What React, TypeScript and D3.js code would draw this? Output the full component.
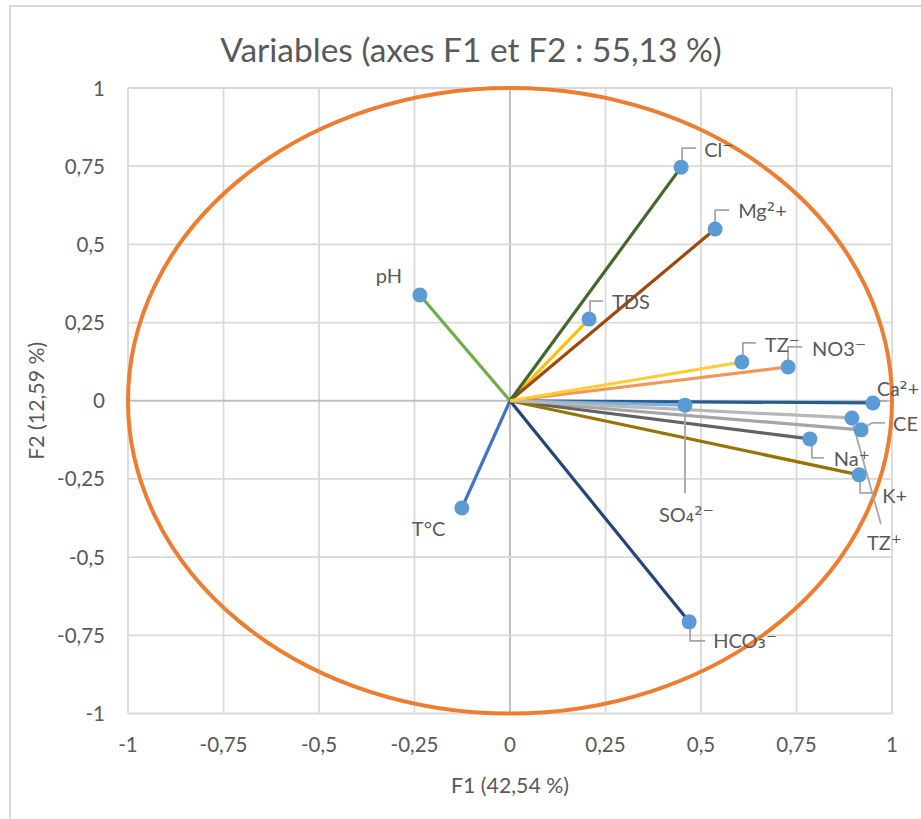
import React from "react";
import * as d3 from "d3";

// ---- Data ----
const variables = ["pH", "T°C", "CE", "TDS", "Ca²+", "Mg²+", "Na⁺", "K+", "Cl⁻", "SO₄²⁻", "HCO₃⁻", "NO3⁻", "TZ⁺", "TZ⁻"];
const f1 = [-0.236, -0.126, 0.919, 0.207, 0.95, 0.537, 0.785, 0.914, 0.448, 0.458, 0.469, 0.728, 0.895, 0.607];
const f2 = [0.338, -0.343, -0.093, 0.261, -0.007, 0.549, -0.122, -0.237, 0.747, -0.014, -0.707, 0.108, -0.055, 0.124];
const xTicks = [-1, -0.75, -0.5, -0.25, 0, 0.25, 0.5, 0.75, 1];
const yTicks = [-1, -0.75, -0.5, -0.25, 0, 0.25, 0.5, 0.75, 1];
const title = "Variables (axes F1 et F2 : 55,13 %)";
const xTitle = "F1 (42,54 %)";
const yTitle = "F2 (12,59 %)";

// ---- Styles ----
const lineColors: Record<string, string> = {
  "pH": "#70ad47",
  "T°C": "#4472c4",
  "CE": "#a5a5a5",
  "TDS": "#ffc000",
  "Ca²+": "#255e91",
  "Mg²+": "#9e480e",
  "Na⁺": "#636363",
  "K+": "#997300",
  "Cl⁻": "#43682b",
  "SO₄²⁻": "#7cafdd",
  "HCO₃⁻": "#264478",
  "NO3⁻": "#f1975a",
  "TZ⁺": "#b7b7b7",
  "TZ⁻": "#ffcd33",
};
const drawOrder = ["CE", "TDS", "T°C", "pH", "Ca²+", "Mg²+", "Na⁺", "K+", "HCO₃⁻", "Cl⁻", "SO₄²⁻", "NO3⁻", "TZ⁺", "TZ⁻"];

// label layout: text offset from point (start x, baseline) and leader polyline relative to point
const labelLayout: Record<string, { dx: number; dy: number; size?: number; leader?: [number, number][] }> = {
  "pH": { dx: -44, dy: -12 },
  "T°C": { dx: -50, dy: 28 },
  "CE": { dx: 32, dy: 1, leader: [[0, 0], [11, -7], [24, -7]] },
  "TDS": { dx: 23, dy: -10, leader: [[1, 0], [1, -18], [14, -18]] },
  "Ca²+": { dx: 4, dy: -7, size: 19.5, leader: [[7, -2], [14, -2]] },
  "Mg²+": { dx: 23, dy: -11, leader: [[0, 0], [0, -19], [14, -19]] },
  "Na⁺": { dx: 24, dy: 27, leader: [[2, 0], [2, 19], [14, 19]] },
  "K+": { dx: 23, dy: 28, leader: [[1, 0], [1, 18], [14, 18]] },
  "Cl⁻": { dx: 23, dy: -10, leader: [[1, 0], [1, -19], [15, -19]] },
  "SO₄²⁻": { dx: -26, dy: 117, leader: [[0, 0], [0, 88]] },
  "HCO₃⁻": { dx: 24, dy: 26, leader: [[1, 0], [1, 19], [16, 19]] },
  "NO3⁻": { dx: 24, dy: -11, leader: [[0, 0], [0, -20], [14, -20]] },
  "TZ⁺": { dx: 15, dy: 132, leader: [[0, 2], [29, 106]] },
  "TZ⁻": { dx: 23, dy: -10, leader: [[1, 0], [1, -19], [14, -19]] },
};

const FONT = "Lato, 'Noto Sans', 'DejaVu Sans', sans-serif";
const SUPFONT = "'DejaVu Sans', 'Noto Sans', sans-serif";
const TEXT = "#595959";
const SPECIAL = /[⁻⁺²₃₄]/;

const fmt = (v: number) => String(v).replace(".", ",");

function renderLabel(s: string, size: number) {
  const parts: React.ReactNode[] = [];
  let buf = "";
  let k = 0;
  for (const ch of Array.from(s)) {
    if (SPECIAL.test(ch)) {
      if (buf) parts.push(<tspan key={k++}>{buf}</tspan>);
      buf = "";
      parts.push(
        <tspan key={k++} fontFamily={SUPFONT} fontSize={size * 1.05}>
          {ch}
        </tspan>
      );
    } else buf += ch;
  }
  if (buf) parts.push(<tspan key={k++}>{buf}</tspan>);
  return parts;
}

export default function App() {
  const W = 921;
  const H = 819;
  const x = d3.scaleLinear().domain([-1, 1]).range([128, 892]);
  const y = d3.scaleLinear().domain([-1, 1]).range([713.5, 88]);
  const leaderLine = d3.line<[number, number]>().x((d) => d[0]).y((d) => d[1]);

  const pts = variables.map((v, i) => ({ name: v, px: x(f1[i]), py: y(f2[i]) }));
  const byName: Record<string, { name: string; px: number; py: number }> = {};
  pts.forEach((p) => (byName[p.name] = p));

  return (
    <svg
      width={W}
      height={H}
      style={{ position: "absolute", left: 0, top: 0, background: "#fff" }}
      fontFamily={FONT}
    >
      <rect x={0} y={0} width={W} height={H} fill="#fff" />
      {/* chart border */}
      <rect x={10} y={6} width={1000} height={1000} fill="none" stroke="#d9d9d9" strokeWidth={2} />

      {/* title */}
      <text x={471} y={62} textAnchor="middle" fontSize={33.5} fill={TEXT}>
        {title}
      </text>

      {/* gridlines */}
      {xTicks.map((t) => (
        <line
          key={"gx" + t}
          x1={x(t)}
          x2={x(t)}
          y1={y(1)}
          y2={y(-1)}
          stroke={t === 0 ? "#bfbfbf" : "#d9d9d9"}
          strokeWidth={t === 0 ? 2 : 1.8}
        />
      ))}
      {yTicks.map((t) => (
        <line
          key={"gy" + t}
          x1={x(-1)}
          x2={x(1)}
          y1={y(t)}
          y2={y(t)}
          stroke={t === 0 ? "#bfbfbf" : "#d9d9d9"}
          strokeWidth={t === 0 ? 2 : 1.8}
        />
      ))}

      {/* tick labels */}
      {xTicks.map((t) => (
        <text key={"tx" + t} x={x(t)} y={752} textAnchor="middle" fontSize={20.5} fill={TEXT}>
          {fmt(t)}
        </text>
      ))}
      {yTicks.map((t) => (
        <text key={"ty" + t} x={105} y={y(t) + 7.5} textAnchor="end" fontSize={20.5} fill={TEXT}>
          {fmt(t)}
        </text>
      ))}

      {/* axis titles */}
      <text x={x(0)} y={793} textAnchor="middle" fontSize={21.3} fill={TEXT}>
        {xTitle}
      </text>
      <text
        transform={`translate(44,${y(0)}) rotate(-90)`}
        textAnchor="middle"
        fontSize={21.3}
        fill={TEXT}
      >
        {yTitle}
      </text>

      {/* correlation circle */}
      <ellipse
        cx={x(0)}
        cy={y(0)}
        rx={x(1) - x(0)}
        ry={y(-1) - y(0)}
        fill="none"
        stroke="#ed7d31"
        strokeWidth={4}
      />

      {/* vectors */}
      {drawOrder.map((n) => {
        const p = byName[n];
        return (
          <line
            key={"l" + n}
            x1={x(0)}
            y1={y(0)}
            x2={p.px}
            y2={p.py}
            stroke={lineColors[n]}
            strokeWidth={3.2}
          />
        );
      })}

      {/* leader lines */}
      {pts.map((p) => {
        const L = labelLayout[p.name];
        if (!L.leader) return null;
        const path = leaderLine(L.leader.map(([a, b]) => [p.px + a, p.py + b] as [number, number]));
        return <path key={"ld" + p.name} d={path || ""} fill="none" stroke="#a6a6a6" strokeWidth={1.8} />;
      })}

      {/* points */}
      {pts.map((p) => (
        <circle key={"c" + p.name} cx={p.px} cy={p.py} r={7.5} fill="#5b9bd5" />
      ))}

      {/* labels */}
      {pts.map((p) => {
        const L = labelLayout[p.name];
        const size = L.size ?? 20;
        return (
          <text key={"t" + p.name} x={p.px + L.dx} y={p.py + L.dy} fontSize={size} fill={TEXT}>
            {renderLabel(p.name, size)}
          </text>
        );
      })}
    </svg>
  );
}
